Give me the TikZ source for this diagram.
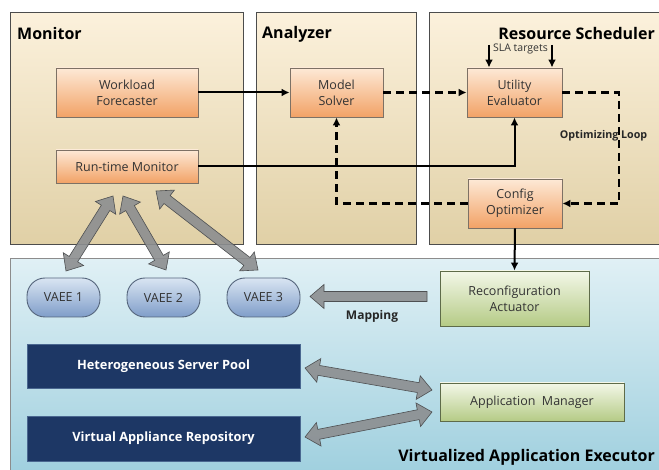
\documentclass[tikz,border=0pt]{standalone}
\usepackage{fontspec}
\setmainfont{Open Sans}
\usetikzlibrary{calc,arrows.meta}

\definecolor{panTop}{HTML}{FCF1DC}
\definecolor{panBot}{HTML}{E0D0A6}
\definecolor{vaeTop}{HTML}{E0F0F5}
\definecolor{vaeBot}{HTML}{9ECFDE}
\definecolor{orTop}{HTML}{FDE9D6}
\definecolor{orBot}{HTML}{F2A266}
\definecolor{orLine}{HTML}{7D7165}
\definecolor{grTop}{HTML}{F3F7E8}
\definecolor{grBot}{HTML}{B5CB86}
\definecolor{grLine}{HTML}{5E6B49}
\definecolor{plTop}{HTML}{D9E5F2}
\definecolor{plBot}{HTML}{7F9DC9}
\definecolor{plLine}{HTML}{55657C}
\definecolor{navy}{HTML}{1D3765}
\definecolor{navyLine}{HTML}{4A6790}
\definecolor{fatFill}{HTML}{8C8E90}
\definecolor{fatLine}{HTML}{4E5052}
\definecolor{txt}{HTML}{333333}

\tikzset{
  panel/.style={draw=black!70, line width=0.8pt, top color=panTop, bottom color=panBot,
    anchor=north west, inner sep=0pt},
  execpanel/.style={draw=black!45, line width=0.8pt, top color=vaeTop, bottom color=vaeBot,
    anchor=north west, inner sep=0pt},
  title/.style={font=\bfseries\fontsize{16}{19}\selectfont, text=black, inner sep=0pt},
  orangebox/.style={draw=orLine, line width=0.9pt, top color=orTop, bottom color=orBot,
    align=center, text=txt, font=\fontsize{12.5}{16}\selectfont, inner sep=0pt},
  greenbox/.style={draw=grLine, line width=0.9pt, top color=grTop, bottom color=grBot,
    align=center, text=txt, font=\fontsize{12.5}{16}\selectfont, inner sep=0pt},
  pill/.style={draw=plLine, line width=0.9pt, top color=plTop, bottom color=plBot,
    rounded corners=18pt, minimum width=73pt, minimum height=39pt, text=txt,
    font=\fontsize{12.5}{14}\selectfont, inner sep=0pt},
  navybox/.style={draw=navyLine, line width=0.6pt, fill=navy, text=white,
    minimum width=273pt, font=\bfseries\fontsize{12.8}{15}\selectfont, inner sep=0pt},
  flow/.style={line width=2pt, -{Latex[length=8pt,width=8pt]}},
  loopflow/.style={flow, dash pattern=on 8pt off 5pt, line width=2.3pt},
  fat/.style={fill=fatFill, draw=fatLine, line width=0.6pt, fill opacity=0.9, line join=miter},
  lbl/.style={font=\bfseries\fontsize{10.7}{12}\selectfont, text=black!85, inner sep=0pt},
}

% head length, head half-width, shaft half-width of the broad grey arrows
\newcommand\fhl{14pt}
\newcommand\fhw{12pt}
\newcommand\fsw{5pt}

% broad grey arrow with a head at both ends
\newcommand\fatboth[2]{%
  \coordinate (fb-p) at ($(#1)!\fhl!(#2)$);
  \coordinate (fb-q) at ($(#2)!\fhl!(#1)$);
  \draw[fat] (#1) -- ($(fb-p)!\fhw!90:(#2)$) -- ($(fb-p)!\fsw!90:(#2)$)
    -- ($(fb-q)!\fsw!-90:(#1)$) -- ($(fb-q)!\fhw!-90:(#1)$) -- (#2)
    -- ($(fb-q)!\fhw!90:(#1)$) -- ($(fb-q)!\fsw!90:(#1)$)
    -- ($(fb-p)!\fsw!-90:(#2)$) -- ($(fb-p)!\fhw!-90:(#2)$) -- cycle;}

% broad grey arrow from a tail to a head
\newcommand\fatone[2]{%
  \coordinate (fo-q) at ($(#2)!\fhl!(#1)$);
  \draw[fat] ($(#1)!\fsw!90:(#2)$) -- ($(fo-q)!\fsw!-90:(#1)$)
    -- ($(fo-q)!\fhw!-90:(#1)$) -- (#2) -- ($(fo-q)!\fhw!90:(#1)$)
    -- ($(fo-q)!\fsw!90:(#1)$) -- ($(#1)!\fsw!-90:(#2)$) -- cycle;}

\begin{document}
\begin{tikzpicture}[x=1pt, y=-1pt]
\useasboundingbox[fill=white] (0,0) rectangle (659,470);

% ---- panels ----
\node[panel, minimum width=233pt, minimum height=232pt] (mon) at (10,12) {};
\node[panel, minimum width=160pt, minimum height=232pt] (ana) at (256,12) {};
\node[panel, minimum width=236pt, minimum height=232pt] (rs) at (429,12) {};
\node[execpanel, minimum width=655pt, minimum height=220pt] (vae) at (10,258) {};

\node[title, anchor=west] (tmon) at (17,34) {Monitor};
\node[title, anchor=west] (tana) at (262,34) {Analyzer};
\node[title, anchor=east] (trs) at (655,34) {Resource Scheduler};
\node[title, anchor=east] (tvae) at (655,457) {Virtualized Application Executor};

% ---- control loop components ----
\node[orangebox, minimum width=142pt, minimum height=49pt] (wf) at (127,92.5) {Workload\\Forecaster};
\node[orangebox, minimum width=142pt, minimum height=33pt] (rtm) at (127,166.5) {Run-time Monitor};
\node[orangebox, minimum width=93pt, minimum height=49pt] (ms) at (336.5,92.5) {Model\\Solver};
\node[orangebox, minimum width=95pt, minimum height=49pt] (ue) at (514.5,92.5) {Utility\\Evaluator};
\node[orangebox, minimum width=94pt, minimum height=49pt] (co) at (515,203.5) {Config\\Optimizer};

% ---- executor components ----
\node[greenbox, minimum width=149pt, minimum height=55pt] (ra) at (514.5,298.5) {Reconfiguration\\Actuator};
\node[greenbox, minimum width=184pt, minimum height=38pt] (am) at (532,402) {Application\ \ Manager};
\node[pill] (v1) at (63.5,297.5) {VAEE 1};
\node[pill] (v2) at (163.5,297.5) {VAEE 2};
\node[pill] (v3) at (263.5,297.5) {VAEE 3};
\node[navybox, minimum height=44pt] (hsp) at (163.5,366) {Heterogeneous Server Pool};
\node[navybox, minimum height=45pt] (var) at (163.5,438.5) {Virtual Appliance Repository};

% ---- solid flows ----
\draw[flow] (wf.east) -- (ms.west);
\draw[flow] (rtm.east) -- (ue.south |- rtm.east) -- (ue.south);
\draw[flow] (co.south) -- (ra.north);

% ---- SLA targets ----
\coordinate (sla1) at (489,45);
\coordinate (sla2) at (552,45);
\draw[flow] (sla1) -- (sla1 |- ue.north);
\draw[flow] (sla2) -- (sla2 |- ue.north);
\node[font=\fontsize{10.5}{12}\selectfont, text=txt, inner sep=0pt] (slat) at (520.5,49) {SLA targets};

% ---- optimizing loop ----
\coordinate (loopx) at (619,0);
\node[lbl] (optl) at (603.5,136) {Optimizing Loop};
\draw[loopflow] (ms.east) -- (ue.west);
\draw[loopflow] (ue.east) -- (loopx |- ue.east) -- (loopx |- co.east) -- (co.east);
\draw[loopflow] (co.west) -- (ms.south |- co.west) -- (ms.south);

% ---- broad grey arrows ----
\coordinate (m1a) at (113,196);
\coordinate (m1b) at (66,271);
\coordinate (m2a) at (123,196);
\coordinate (m2b) at (166,270);
\coordinate (m3a) at (156,191);
\coordinate (m3b) at (258,270);
\fatboth{m1a}{m1b}
\fatboth{m2a}{m2b}
\fatboth{m3a}{m3b}

\coordinate (mapt) at (427,296.5);
\coordinate (maph) at (310,296.5);
\fatone{mapt}{maph}
\node[lbl, font=\bfseries\fontsize{12}{14}\selectfont] (mapl) at (372,316) {Mapping};

\coordinate (s1a) at (305,368);
\coordinate (s1b) at (432,390);
\coordinate (s2a) at (305,437);
\coordinate (s2b) at (432,412);
\fatboth{s1a}{s1b}
\fatboth{s2a}{s2b}
\end{tikzpicture}
\end{document}
